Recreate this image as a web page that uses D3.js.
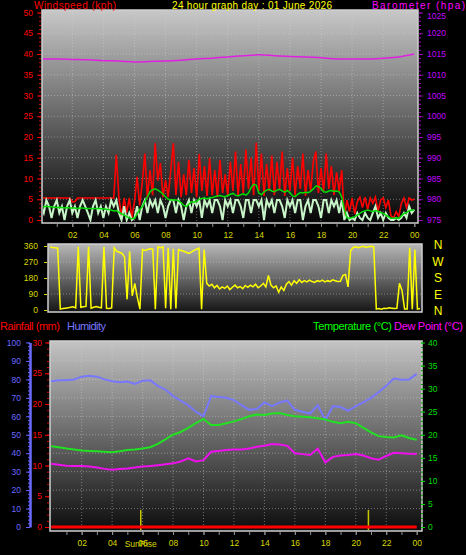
<!DOCTYPE html>
<html><head><meta charset="utf-8">
<script src="https://cdn.jsdelivr.net/npm/d3@7"></script>
<style>
html,body{margin:0;padding:0;background:#000;}
svg{display:block;}
text{font-family:"Liberation Sans",Arial,sans-serif;}
</style></head><body>
<svg id="c" width="466" height="555"></svg>
<script>
// ---------- DATA ----------
const title = "24 hour graph day : 01 June 2026";
const hourTicks = [2,4,6,8,10,12,14,16,18,20,22,24];
// wind (10-minute samples, hour 0 .. 24)
const windGust = [
5.3,5.3,5.3,5.3,5.3,5.3, 5.3,5.3,5.3,5.3,5.3,5.3, 4.4,4.4,5.3,5.3,5.3,5.3, 5.3,5.3,5.3,5.3,5.3,5.3,
5.3,5.3,5.3,5.3,5.3,15.7, 5.3,0.9,5.3,1.8,5.3,0.5, 4.4,10.4,3.5,9.0,16.0,5.3, 12.0,6.0,18.5,9.5,13.7,5.5,
9.6,5.5,12.0,18.5,6.0,14.0, 5.5,11.0,6.0,14.5,6.5,12.5, 5.5,15.9,7.0,13.0,5.8,14.9, 6.0,12.0,5.5,14.5,6.5,11.0,
6.0,14.0,7.0,16.5,5.8,13.5, 6.5,17.0,7.5,15.0,6.0,18.6, 7.0,16.0,5.8,13.5,7.0,15.5, 6.0,14.0,7.5,16.5,5.8,12.5,
7.0,15.0,6.0,13.0,7.5,16.0, 5.8,12.0,7.0,14.0,16.5,6.5, 12.5,7.0,16.0,7.5,13.0,6.0, 11.5,7.0,12.0,0.5,4.8,2.0,
5.3,1.5,4.4,5.5,3.0,5.5, 2.5,5.3,4.0,5.5,2.0,4.8, 5.3,3.0,4.8,1.0,0.5,2.0, 0.8,4.0,5.3,3.0,5.3,4.8, 5.0];
const windSpeed = [
3.3,1.7,4.8,3.3,0.5,3.3, 4.8,1.7,3.3,0,3.3,4.8, 1.7,3.3,0.5,3.3,4.8,3.3, 1.7,0,3.3,4.8,1.7,3.3,
0.5,3.3,1.7,4.8,3.3,4.8, 1.7,0,3.3,0,1.7,0, 0.5,3.3,0,3.3,4.8,1.7, 4.8,3.3,4.8,1.7,4.8,3.3,
0.5,3.3,4.8,4.8,1.7,4.8, 3.3,0,3.3,4.8,1.7,4.8, 3.3,4.8,0.5,4.8,3.3,4.8, 1.7,4.8,4.8,3.3,0,4.8,
3.3,4.8,1.7,4.8,4.8,3.3, 0.5,4.8,4.8,1.7,4.8,4.8, 3.3,4.8,0,4.8,3.3,4.8, 1.7,4.8,4.8,3.3,0.5,4.8,
3.3,4.8,1.7,4.8,4.8,0, 3.3,4.8,1.7,4.8,4.8,3.3, 0.5,4.8,4.8,1.7,4.8,3.3, 4.8,1.7,4.8,0,1.7,0,
0.5,0,1.7,0.5,0,1.7, 0.5,0,1.7,3.3,0.5,1.7, 0,1.7,0.5,0,0,0.5, 0,0.5,1.7,0.5,3.3,1.7, 2.5];
const windAvg = [
3.2,3.2,3.3,3.2,3.2,3.1, 3.0,3.1,3.0,2.9,3.0,2.9, 2.9,2.9,2.8,2.9,2.9,2.8, 2.8,2.8,2.7,2.8,2.8,2.7,
2.7,2.6,2.5,2.4,2.2,2.3, 1.8,1.5,1.2,0.8,0.5,0.3, 0.4,1.5,2.5,3.2,4.5,5.6, 6.8,7.3,7.5,7.2,6.8,6.2,
5.6,5.0,4.8,4.9,4.8,4.6, 4.2,3.5,3.2,3.8,4.4,4.3, 4.5,5.0,5.2,5.3,5.1,5.3, 5.4,5.6,5.8,5.9,5.7,5.6,
5.9,6.2,6.4,6.0,5.8,6.1, 6.3,6.0,6.5,7.8,8.6,8.4, 6.5,6.1,6.8,7.2,7.4,7.0, 6.8,7.2,7.4,7.0,6.7,7.1,
6.6,5.8,5.6,6.2,6.6,6.5, 6.7,6.6,6.9,7.5,8.2,8.1, 7.6,6.8,6.7,7.0,7.1,6.9, 7.0,6.8,5.5,2.5,0.5,0.4,
0.6,0.8,1.2,1.6,2.0,2.2, 2.4,2.2,2.0,2.3,2.1,1.8, 1.6,1.2,0.8,0.4,0.4,0.5, 0.4,1.0,1.6,1.8,2.2,2.4, 2.4];
// barometer (hourly)
const baro = [1013.8,1013.8,1013.7,1013.6,1013.4,1013.3,1013.1,1013.2,1013.3,1013.5,1013.8,1014.0,1014.3,
1014.6,1014.8,1014.6,1014.4,1014.3,1014.1,1013.8,1013.8,1013.8,1014.0,1014.3,1015.0];
// wind direction (10-minute samples)
const windDir = [
355,352,350,348,5,8, 10,12,15,18,12,355, 15,18,20,355,10,15, 20,15,12,355,10,8,
12,350,330,325,318,300, 60,330,80,150,70,5, 340,335,340,345,342,5, 355,350,355,10,350,5,
345,8,340,335,330,325, 318,325,335,342,348,5, 340,150,135,145,125,138, 118,130,122,135,115,128,
140,125,132,120,138,128, 140,130,145,125,135,150, 130,195,140,125,135,100, 130,110,145,160,140,165,
150,170,155,165,158,168, 160,155,165,160,168,158, 165,160,170,165,160,162, 195,200,130,335,352,355,
350,355,358,352,356,358, 355,5,8,5,10,8, 12,10,8,10,150,110, 5,5,350,5,340,5, 8];
const dirLabels = ["N","W","S","E","N"];
// temperature / humidity / dew point (half-hourly)
const humidity = [79,79.5,79.5,80,81.5,82,81.5,80,79,78.5,78.8,77.5,79.3,79.5,76.5,74.5,71,68.5,66,62.5,
60,71,70.5,70,68.8,66,63.5,64,67.5,65.5,67.5,68.5,63.5,62.5,61.5,66,58,65.5,65,63,65.5,67.5,70,73,76.5,80.5,79.8,80,83];
const temperature = [17.5,17.3,17.0,16.8,16.6,16.5,16.4,16.3,16.2,16.4,16.7,16.8,17.0,17.3,18.0,19.0,20.0,20.6,21.5,22.5,
23.4,22.1,22.1,22.5,22.9,23.4,24.0,24.4,24.3,24.6,24.7,24.3,24.0,23.9,23.8,23.6,23.3,22.8,22.5,22.8,22.5,21.5,20.5,19.7,19.5,19.4,19.9,19.3,18.9];
const dewPoint = [13.7,13.5,13.3,13.2,13.2,13.1,12.9,12.6,12.4,12.6,12.7,12.9,13.1,13.2,13.4,13.6,13.8,14.2,14.9,14.2,
14.5,16.3,16.5,16.7,16.8,16.8,17.0,17.4,17.6,18.0,17.9,17.6,16.0,15.8,15.6,17.0,14.0,15.2,15.5,15.6,15.8,15.5,14.9,14.6,15.4,16.1,16.0,15.9,15.8];
const rainfall = [0,0,0,0,0,0,0,0,0,0,0,0,0,0,0,0,0,0,0,0,0,0,0,0,0];
const sunRise = 5.88, sunSet = 20.83;

// ---------- DRAW ----------
const svg = d3.select("#c");
const pad2 = h => String(h % 24).padStart(2, "0");
const TF = 8.5; // tick label font size
const defs = svg.append("defs");
function grad(id, c0, c1) {
  const g = defs.append("linearGradient").attr("id", id).attr("x1",0).attr("y1",0).attr("x2",0).attr("y2",1);
  g.append("stop").attr("offset","0%").attr("stop-color",c0);
  g.append("stop").attr("offset","100%").attr("stop-color",c1);
}
grad("gTop", "#c8c8c8", "#050505");
grad("gDir", "#b8b8b8", "#151515");
grad("gBot", "#c4c4c4", "#0c0c0c");
function clip(id, x, y, w, h) {
  defs.append("clipPath").attr("id", id).append("rect").attr("x",x).attr("y",y).attr("width",w).attr("height",h);
}
function txt(x, y, s, col, size, anchor, len) {
  const t = svg.append("text").attr("x",x).attr("y",y).text(s).attr("fill",col)
    .attr("font-size",size).attr("text-anchor",anchor||"start");
  if (len) t.attr("textLength",len).attr("lengthAdjust","spacing");
  return t;
}
function styleAxis(g, col, size) {
  g.select(".domain").remove();
  g.selectAll(".tick line").attr("stroke", col);
  g.selectAll(".tick text").attr("fill", col).attr("font-size", size).attr("font-family","Liberation Sans, Arial, sans-serif");
}

// ===== Top panel =====
const T = {x0:42, x1:418, y0:10, y1:223};
const xTop = d3.scaleLinear([0,24],[41.2,414.3]);
const yWind = d3.scaleLinear([0,50],[220,12.5]);
const yBaro = d3.scaleLinear([975,1025],[220,12.5]);
svg.append("rect").attr("x",T.x0).attr("y",T.y0).attr("width",T.x1-T.x0).attr("height",T.y1-T.y0).attr("fill","url(#gTop)");
clip("cTop", T.x0+1, T.y0, T.x1-T.x0-2, T.y1-T.y0-1);
const gridTop = svg.append("g").attr("stroke","#d8d8d8").attr("stroke-opacity",0.45).attr("stroke-dasharray","1,2");
d3.range(5,50,5).forEach(v => gridTop.append("line").attr("x1",T.x0).attr("x2",T.x1).attr("y1",yWind(v)).attr("y2",yWind(v)));
hourTicks.slice(0,-1).forEach(h => gridTop.append("line").attr("x1",xTop(h)).attr("x2",xTop(h)).attr("y1",T.y0).attr("y2",T.y1));

const tTop = i => i / 6;
const pTop = svg.append("g").attr("clip-path","url(#cTop)");
pTop.append("path").datum(windGust).attr("fill","none").attr("stroke","#ff0000").attr("stroke-width",1.6)
  .attr("d", d3.line().x((d,i)=>xTop(tTop(i))).y(d=>yWind(d)));
pTop.append("path").datum(windSpeed).attr("fill","none").attr("stroke","#c8f5c8").attr("stroke-width",2)
  .attr("d", d3.line().x((d,i)=>xTop(tTop(i))).y(d=>yWind(d)));
pTop.append("path").datum(windAvg).attr("fill","none").attr("stroke","#00dd00").attr("stroke-width",1.5)
  .attr("d", d3.line().x((d,i)=>xTop(tTop(i))).y(d=>yWind(d)));
pTop.append("path").datum(baro).attr("fill","none").attr("stroke","#e020e0").attr("stroke-width",1.5)
  .attr("d", d3.line().curve(d3.curveMonotoneX).x((d,i)=>xTop(i)).y(d=>yBaro(d)));
svg.append("rect").attr("x",T.x0).attr("y",T.y0).attr("width",T.x1-T.x0).attr("height",T.y1-T.y0)
  .attr("fill","none").attr("stroke","#cfcfcf").attr("stroke-width",1.5);

let a;
a = svg.append("g").attr("transform","translate(41,0)").call(d3.axisLeft(yWind).tickValues(d3.range(0,51,1)).tickSize(2).tickFormat(""));
styleAxis(a, "#cc0000", TF);
a = svg.append("g").attr("transform","translate(41,0)").call(d3.axisLeft(yWind).tickValues(d3.range(0,51,5)).tickSize(4).tickPadding(4));
styleAxis(a, "#ff0000", TF);
a = svg.append("g").attr("transform","translate(419,0)").call(d3.axisRight(yBaro).tickValues(d3.range(975,1026,1)).tickSize(2).tickFormat(""));
styleAxis(a, "#a000c0", TF);
a = svg.append("g").attr("transform","translate(419,0)").call(d3.axisRight(yBaro).tickValues(d3.range(975,1026,5)).tickSize(4).tickPadding(4).tickFormat(d3.format("d")));
styleAxis(a, "#c000ff", TF);
a.selectAll(".tick line").attr("stroke","#a000c0");
a.selectAll(".tick text").filter(d => d === 1025).attr("dy","0.72em");
a = svg.append("g").attr("transform","translate(0,224)").call(d3.axisBottom(xTop).tickValues(d3.range(1,25,1)).tickSize(3).tickFormat(""));
styleAxis(a, "#909090", TF);
a = svg.append("g").attr("transform","translate(0,224)").call(d3.axisBottom(xTop).tickValues(hourTicks).tickSize(3).tickPadding(5).tickFormat(pad2));
styleAxis(a, "#d8d800", TF);
a.selectAll(".tick line").attr("stroke","#909090");

txt(34, 9.3, "Windspeed (kph)", "#ff0000", 10, "start", 82);
txt(172, 9.3, title, "#ffff00", 10, "start", 160);
txt(372, 9.3, "Barometer (hpa)", "#ff00ff", 10, "start", 93);

// ===== Wind direction panel =====
const D = {x0:48, x1:422, y0:244, y1:312};
const xDir = d3.scaleLinear([0,24],[50,420]);
const yDir = d3.scaleLinear([0,360],[310,246]);
svg.append("rect").attr("x",D.x0).attr("y",D.y0).attr("width",D.x1-D.x0).attr("height",D.y1-D.y0).attr("fill","url(#gDir)");
clip("cDir", D.x0+1, D.y0, D.x1-D.x0-2, D.y1-D.y0-1);
const gridDir = svg.append("g").attr("stroke","#d8d8d8").attr("stroke-opacity",0.45).attr("stroke-dasharray","1,2");
[90,180,270].forEach(v => gridDir.append("line").attr("x1",D.x0).attr("x2",D.x1).attr("y1",yDir(v)).attr("y2",yDir(v)));
svg.append("g").attr("clip-path","url(#cDir)").append("path").datum(windDir).attr("fill","none")
  .attr("stroke","#ffff00").attr("stroke-width",1.5)
  .attr("d", d3.line().x((d,i)=>xDir(i/6)).y(d=>yDir(d)));
svg.append("rect").attr("x",D.x0).attr("y",D.y0).attr("width",D.x1-D.x0).attr("height",D.y1-D.y0)
  .attr("fill","none").attr("stroke","#cfcfcf").attr("stroke-width",1.5);
a = svg.append("g").attr("transform","translate(47,0)").call(d3.axisLeft(yDir).tickValues([0,90,180,270,360]).tickSize(3).tickPadding(6));
styleAxis(a, "#d8d800", TF);
dirLabels.forEach((s,i) => txt(438, 249 + i*16.6, s, "#ffff00", 12, "middle"));

// ===== Bottom panel =====
const B = {x0:50, x1:422, y0:341, y1:531};
const xBot = d3.scaleLinear([0,24],[51.2,416.7]);
const yHum = d3.scaleLinear([0,100],[527,342.5]);
const yRain = d3.scaleLinear([0,30],[527,342.5]);
const yTemp = d3.scaleLinear([0,40],[527,342.5]);
svg.append("rect").attr("x",B.x0).attr("y",B.y0).attr("width",B.x1-B.x0).attr("height",B.y1-B.y0).attr("fill","url(#gBot)");
clip("cBot", B.x0+1, B.y0, B.x1-B.x0-2, B.y1-B.y0-1);
const gridBot = svg.append("g").attr("stroke","#d8d8d8").attr("stroke-opacity",0.45).attr("stroke-dasharray","1,2");
d3.range(10,100,10).forEach(v => gridBot.append("line").attr("x1",B.x0).attr("x2",B.x1).attr("y1",yHum(v)).attr("y2",yHum(v)));
hourTicks.slice(0,-1).forEach(h => gridBot.append("line").attr("x1",xBot(h)).attr("x2",xBot(h)).attr("y1",B.y0).attr("y2",B.y1));

const pBot = svg.append("g").attr("clip-path","url(#cBot)");
[sunRise, sunSet].forEach(s => pBot.append("line").attr("x1",xBot(s)).attr("x2",xBot(s))
  .attr("y1",510).attr("y2",B.y1).attr("stroke","#c8c800").attr("stroke-width",1.5));
pBot.append("path").datum(humidity).attr("fill","none").attr("stroke","#7878ff").attr("stroke-width",2)
  .attr("d", d3.line().x((d,i)=>xBot(i/2)).y(d=>yHum(d)));
pBot.append("path").datum(temperature).attr("fill","none").attr("stroke","#22e022").attr("stroke-width",2)
  .attr("d", d3.line().x((d,i)=>xBot(i/2)).y(d=>yTemp(d)));
pBot.append("path").datum(dewPoint).attr("fill","none").attr("stroke","#ee10ee").attr("stroke-width",2)
  .attr("d", d3.line().x((d,i)=>xBot(i/2)).y(d=>yTemp(d)));
pBot.append("path").datum(rainfall).attr("fill","none").attr("stroke","#ff0000").attr("stroke-width",3)
  .attr("d", d3.line().x((d,i)=>xBot(i)).y(d=>yRain(d)));
svg.append("rect").attr("x",B.x0).attr("y",B.y0).attr("width",B.x1-B.x0).attr("height",B.y1-B.y0)
  .attr("fill","none").attr("stroke","#cfcfcf").attr("stroke-width",1.5);

a = svg.append("g").attr("transform","translate(30,0)").call(d3.axisLeft(yHum).tickValues(d3.range(0,101,2)).tickSize(2).tickFormat(""));
styleAxis(a, "#6060ff", TF);
a = svg.append("g").attr("transform","translate(30,0)").call(d3.axisLeft(yHum).tickValues(d3.range(0,101,10)).tickSize(4).tickSizeOuter(0).tickPadding(5));
a.select(".domain").attr("stroke","#6a6aff").attr("stroke-width",2.5);
a.selectAll(".tick line").attr("stroke","#6060ff");
a.selectAll(".tick text").attr("fill","#6a6aff").attr("font-size",TF);
a = svg.append("g").attr("transform","translate(49,0)").call(d3.axisLeft(yRain).tickValues(d3.range(0,31,1)).tickSize(2).tickFormat(""));
styleAxis(a, "#cc0000", TF);
a = svg.append("g").attr("transform","translate(49,0)").call(d3.axisLeft(yRain).tickValues(d3.range(0,31,5)).tickSize(4).tickPadding(3));
styleAxis(a, "#ff0000", TF);
a = svg.append("g").attr("transform","translate(421,0)").call(d3.axisRight(yTemp).tickValues(d3.range(0,41,1)).tickSize(2).tickFormat(""));
styleAxis(a, "#00a000", TF);
a = svg.append("g").attr("transform","translate(421,0)").call(d3.axisRight(yTemp).tickValues(d3.range(0,41,5)).tickSize(4).tickPadding(3));
styleAxis(a, "#00dd00", TF);
a = svg.append("g").attr("transform","translate(0,532)").call(d3.axisBottom(xBot).tickValues(d3.range(1,25,1)).tickSize(3).tickFormat(""));
styleAxis(a, "#909090", TF);
a = svg.append("g").attr("transform","translate(0,532)").call(d3.axisBottom(xBot).tickValues(hourTicks).tickSize(3).tickPadding(5).tickFormat(pad2));
styleAxis(a, "#d8d800", TF);
a.selectAll(".tick line").attr("stroke","#909090");
txt(xBot(sunRise), 546.5, "SunRise", "#d8d800", TF, "middle");

txt(0, 330, "Rainfall (mm)", "#ff0000", 11, "start", 60);
txt(67, 330, "Humidity", "#7878ff", 11, "start", 39);
txt(313, 330, "Temperature (°C)", "#00ff00", 11, "start", 79);
txt(394, 330, "Dew Point (°C)", "#ff00ff", 11, "start", 69);
</script>
</body></html>
